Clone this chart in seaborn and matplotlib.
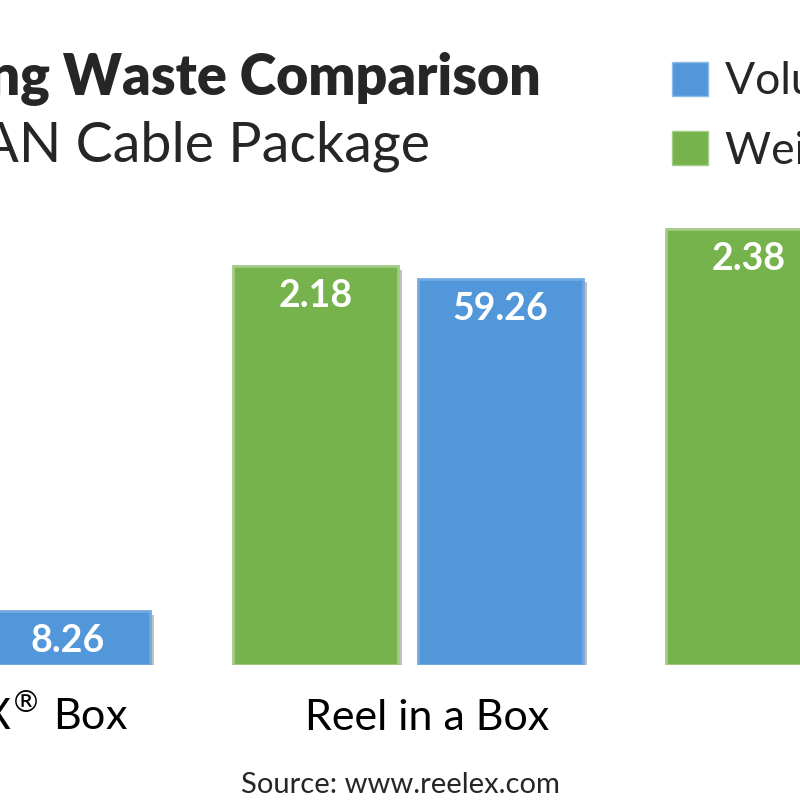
import numpy as np
import pandas as pd
import matplotlib.pyplot as plt
import matplotlib.patheffects as pe
from matplotlib.patches import Patch
import seaborn as sns

# data (only what is visible in the cropped view; rest left out)
packages = ["REELEX$^{®}$ Box", "Reel in a Box", "Spool"]
weight_lbs = [np.nan, 2.18, 2.38]
volume_cuft = [8.26, 59.26, np.nan]

green = "#76B34C"
blue = "#5297D9"

sns.set_style("white")
plt.rcParams["font.family"] = ["Lato", "DejaVu Sans"]

df_w = pd.DataFrame({"package": packages, "value": weight_lbs, "metric": "Weight"}).dropna()
df_v = pd.DataFrame({"package": packages, "value": volume_cuft, "metric": "Volume"}).dropna()

fig = plt.figure(figsize=(8, 8), dpi=100)
# axes deliberately larger than the figure: the reference is a crop of a wider chart
ax = fig.add_axes([-0.3019, 135 / 800, 1.62375, 665 / 800])
ax2 = ax.twinx()

hue_order = ["Weight", "Volume"]
palette = {"Weight": green, "Volume": blue}
for a, d in [(ax, df_w), (ax2, df_v)]:
    sns.barplot(data=d, x="package", y="value", hue="metric", order=packages,
                hue_order=hue_order, palette=palette, width=0.8545, gap=0.103,
                dodge=True, saturation=1, legend=False, linewidth=0, ax=a)

ax.set_xlim(-0.5, 2.5)
ax.set_ylim(0, 665 / 183)
ax2.set_ylim(0, 665 / 6.52)

# bevel-ish look + value labels
for a in (ax, ax2):
    for p in a.patches:
        h = p.get_height()
        if np.isnan(h) or h == 0:
            continue
        light = sns.set_hls_values(p.get_facecolor(), l=0.66)
        p.set_edgecolor(light)
        p.set_linewidth(2)
        p.set_path_effects([pe.SimplePatchShadow(offset=(2.5, -2.5), shadow_rgbFace="0.45", alpha=0.45),
                            pe.Normal()])
        a.annotate(f"{h:.2f}", xy=(p.get_x() + p.get_width() / 2, h), xytext=(0, -29.5),
                   textcoords="offset points", ha="center", va="baseline",
                   color="white", fontsize=27, fontweight="bold")
    a.axis("off")

for i, name in enumerate(packages):
    ax.text(i + 19 / 433, -65 / 665, name, transform=ax.get_xaxis_transform(),
            ha="center", va="baseline", fontsize=31, color="black")

fig.text(541 / 800, 1 - 95 / 800, "Packaging Waste Comparison", ha="right", va="baseline",
         fontsize=40, fontweight="heavy")
fig.text(430 / 800, 1 - 162 / 800, "1000 ft. LAN Cable Package", ha="right", va="baseline",
         fontsize=40)
fig.text(0.5, 1 - 793 / 800, "Source: www.reelex.com", ha="center", va="baseline", fontsize=21)

handles = [Patch(facecolor=blue, edgecolor="#8dbbe8", label="Volume (cu. ft.)"),
           Patch(facecolor=green, edgecolor="#a3cc86", label="Weight (lbs.)")]
fig.legend(handles=handles, loc="upper left", bbox_to_anchor=(672 / 800, 1 - 61 / 800),
           frameon=False, fontsize=32, handlelength=0.8, handleheight=0.8,
           handletextpad=0.4, labelspacing=0.6, borderpad=0, borderaxespad=0)

fig.savefig("out.png", dpi=100)
